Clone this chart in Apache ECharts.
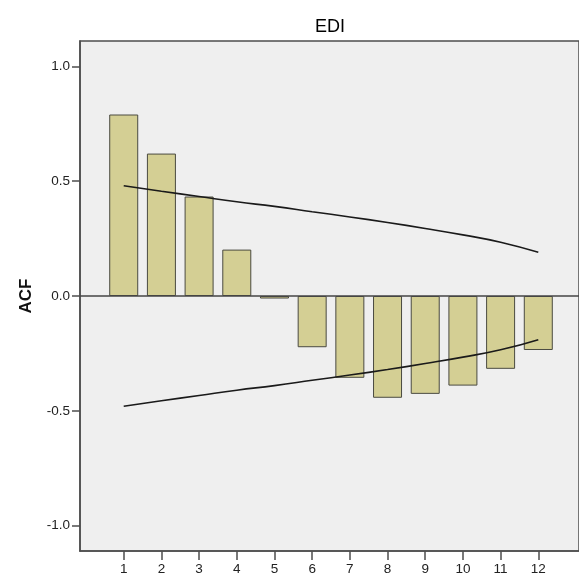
<!DOCTYPE html>
<html>
<head>
<meta charset="utf-8">
<script src="https://cdn.jsdelivr.net/npm/echarts@6/dist/echarts.min.js"></script>
<style>
html,body{margin:0;padding:0;background:#fff;}
#chart{width:579px;height:576px;}
</style>
</head>
<body>
<div id="chart"></div>
<script>
var title = 'EDI';
var yLabel = 'ACF';
var lags = [1,2,3,4,5,6,7,8,9,10,11,12];
var acf = [0.79,0.62,0.433,0.202,-0.011,-0.223,-0.356,-0.443,-0.426,-0.39,-0.317,-0.235];
var upperLimit = [0.48,0.456,0.433,0.41,0.39,0.367,0.344,0.32,0.294,0.266,0.234,0.19];
var lowerLimit = [-0.48,-0.456,-0.433,-0.41,-0.39,-0.367,-0.344,-0.32,-0.294,-0.266,-0.234,-0.19];
var yTicks = [-1.0,-0.5,0.0,0.5,1.0];

var chart = echarts.init(document.getElementById('chart'), null, {renderer:'canvas'});
var font = 'Liberation Sans, Arial, sans-serif';
chart.setOption({
  animation:false,
  backgroundColor:'#ffffff',
  title:{text:title,left:325,top:13,textAlign:'center',
    textStyle:{fontFamily:font,fontSize:18,fontWeight:'normal',color:'#000'}},
  grid:{left:80,right:-3,top:41,bottom:23,show:true,backgroundColor:'#efefef',
    borderColor:'#4d4d4d',borderWidth:1.5,containLabel:false},
  xAxis:{type:'value',min:-0.16,max:13.08,
    axisLine:{show:true,onZero:false,lineStyle:{color:'#4d4d4d',width:1.5}},
    splitLine:{show:false},
    axisTick:{show:true,length:9,customValues:lags,lineStyle:{color:'#4d4d4d',width:1.5}},
    axisLabel:{customValues:lags,margin:11,fontFamily:font,fontSize:13.5,color:'#222'}
  },
  yAxis:{type:'value',min:-1.11,max:1.11,
    name:yLabel,nameLocation:'middle',nameGap:45,
    nameTextStyle:{fontFamily:font,fontSize:17,fontWeight:'bold',color:'#111'},
    axisLine:{show:true,onZero:false,lineStyle:{color:'#4d4d4d',width:1.5}},
    splitLine:{show:false},
    axisTick:{show:true,length:8,customValues:yTicks,lineStyle:{color:'#4d4d4d',width:1.5}},
    axisLabel:{customValues:yTicks,margin:10,fontFamily:font,fontSize:13.5,color:'#222',
      formatter:function(v){return v.toFixed(1);}}
  },
  series:[
    {type:'bar',data:lags.map(function(l,i){return [l,acf[i]];}),barWidth:29,
      itemStyle:{color:'#d4cf94',borderColor:'#4a4a40',borderWidth:1},
      markLine:{silent:true,symbol:['none','none'],label:{show:false},
        lineStyle:{color:'#444',width:1.5,type:'solid'},data:[{yAxis:0}]}},
    {type:'line',data:lags.map(function(l,i){return [l,upperLimit[i]];}),smooth:true,
      symbol:'none',lineStyle:{color:'#1a1a1a',width:1.6}},
    {type:'line',data:lags.map(function(l,i){return [l,lowerLimit[i]];}),smooth:true,
      symbol:'none',lineStyle:{color:'#1a1a1a',width:1.6}}
  ]
});
</script>
</body>
</html>
